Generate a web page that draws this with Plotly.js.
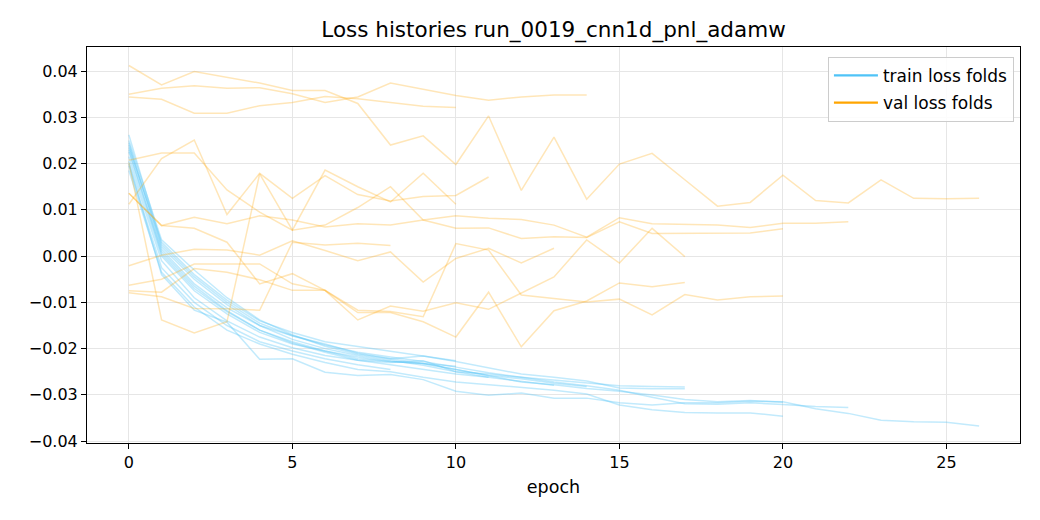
<!DOCTYPE html>
<html>
<head>
<meta charset="utf-8">
<script src="https://cdn.plot.ly/plotly-3.0.1.min.js"></script>
<style>html,body{margin:0;padding:0;background:#fff;}#chart{width:1040px;height:520px;}</style>
</head>
<body>
<div id="chart"></div>
<script>
// ---- data: per-fold loss histories (index = epoch) ----
const trainFold01 = [0.0235, 0.0030, -0.0040, -0.0095, -0.0140, -0.0165, -0.0185, -0.0195, -0.0205, -0.0216, -0.0226];
const valFold01   = [0.0344, 0.0339, 0.0309, 0.0309, 0.0325, 0.0332, 0.0345, 0.0340, 0.0332, 0.0324, 0.0321];

const trainFold02 = [0.0250, 0.0035, -0.0030, -0.0090, -0.0138, -0.0170, -0.0195, -0.0212, -0.0222, -0.0232, -0.0245, -0.0258, -0.0265, -0.0275, -0.0282];
const valFold02   = [0.0350, 0.0363, 0.0368, 0.0363, 0.0364, 0.0351, 0.0332, 0.0344, 0.0374, 0.0360, 0.0347, 0.0337, 0.0344, 0.0348, 0.0348];

const trainFold03 = [0.0200, -0.0040, -0.0117, -0.0143, -0.0223, -0.0222, -0.0251, -0.0258, -0.0256, -0.0267, -0.0292, -0.0301, -0.0296, -0.0307, -0.0307, -0.0317, -0.0322, -0.0317, -0.0317, -0.0314, -0.0315, -0.0330, -0.0340, -0.0355, -0.0358, -0.0359, -0.0367];
const valFold03   = [0.0412, 0.0370, 0.0399, 0.0387, 0.0374, 0.0358, 0.0358, 0.0330, 0.0240, 0.0260, 0.0198, 0.0303, 0.0142, 0.0257, 0.0123, 0.0199, 0.0222, 0.0165, 0.0108, 0.0116, 0.0175, 0.0120, 0.0115, 0.0165, 0.0125, 0.0124, 0.0125];

const trainFold04 = [0.0245, 0.0020, -0.0050, -0.0105, -0.0150, -0.0180, -0.0200, -0.0215, -0.0225, -0.0236, -0.0250, -0.0262];
const valFold04   = [0.0112, 0.0211, 0.0251, 0.0090, 0.0179, 0.0125, 0.0174, 0.0133, 0.0119, 0.0129, 0.0131, 0.0171];

const trainFold05 = [0.0215, 0.0000, -0.0075, -0.0125, -0.0165, -0.0190, -0.0205, -0.0222, -0.0228, -0.0232, -0.0238];
const valFold05   = [0.0207, 0.0223, 0.0223, 0.0143, 0.0095, 0.0056, 0.0186, 0.0150, 0.0117, 0.0179, 0.0112];

const trainFold06 = [0.0262, 0.0025, -0.0045, -0.0100, -0.0145, -0.0172, -0.0192, -0.0208, -0.0218, -0.0228, -0.0240, -0.0252, -0.0262, -0.0272, -0.0280, -0.0290, -0.0305, -0.0319, -0.0320, -0.0317, -0.0321, -0.0325, -0.0327];
const valFold06   = [0.0136, 0.0066, 0.0084, 0.0070, 0.0087, 0.0078, 0.0063, 0.0070, 0.0067, 0.0078, 0.0087, 0.0082, 0.0079, 0.0067, 0.0041, 0.0083, 0.0070, 0.0069, 0.0067, 0.0062, 0.0071, 0.0071, 0.0074];

const trainFold07 = [0.0185, -0.0035, -0.0110, -0.0160, -0.0190, -0.0212, -0.0230, -0.0245, -0.0250, -0.0262, -0.0272, -0.0278, -0.0285, -0.0290, -0.0298, -0.0322, -0.0332, -0.0338, -0.0339, -0.0339, -0.0346];
const valFold07   = [0.0202, -0.0138, -0.0166, -0.0142, 0.0178, 0.0056, 0.0067, 0.0105, 0.0150, 0.0078, 0.0060, 0.0061, 0.0038, 0.0042, 0.0040, 0.0074, 0.0049, 0.0049, 0.0050, 0.0050, 0.0059];

const trainFold08 = [0.0205, -0.0010, -0.0090, -0.0140, -0.0175, -0.0198, -0.0215, -0.0225, -0.0230, -0.0226, -0.0250, -0.0255, -0.0262, -0.0268, -0.0275, -0.0280, -0.0282, -0.0283];
const valFold08   = [-0.0063, -0.0050, -0.0017, -0.0017, -0.0017, -0.0060, -0.0074, -0.0138, -0.0108, -0.0119, -0.0101, -0.0115, -0.0080, -0.0045, 0.0035, -0.0015, 0.0060, -0.0001];

const trainFold09 = [0.0225, 0.0010, -0.0065, -0.0118, -0.0160, -0.0188, -0.0208, -0.0225, -0.0235, -0.0245, -0.0255, -0.0262, -0.0270, -0.0279];
const valFold09   = [-0.0021, 0.0002, 0.0015, 0.0013, 0.0002, 0.0033, 0.0012, -0.0010, 0.0009, -0.0056, -0.0005, 0.0017, -0.0015, 0.0017];

const trainFold10 = [0.0195, -0.0025, -0.0100, -0.0150, -0.0185, -0.0205, -0.0222, -0.0235, -0.0245];
const valFold10   = [-0.0079, -0.0088, -0.0113, -0.0114, -0.0117, 0.0030, 0.0024, 0.0028, 0.0023];

const trainFold11 = [0.0240, 0.0015, -0.0060, -0.0112, -0.0150, -0.0172, -0.0190, -0.0210, -0.0222, -0.0216, -0.0228, -0.0242, -0.0255, -0.0262, -0.0270, -0.0285, -0.0287, -0.0287];
const valFold11   = [-0.0075, -0.0078, -0.0027, -0.0035, -0.0051, -0.0074, -0.0074, -0.0122, -0.0122, -0.0142, -0.0175, -0.0078, -0.0196, -0.0118, -0.0097, -0.0058, -0.0066, -0.0057];

const trainFold12 = [0.0230, 0.0005, -0.0070, -0.0120, -0.0160, -0.0185, -0.0205, -0.0218, -0.0228, -0.0232, -0.0245, -0.0258, -0.0272, -0.0278, -0.0286, -0.0292, -0.0300, -0.0310, -0.0315, -0.0312, -0.0316];
const valFold12   = [0.0136, 0.0066, 0.0060, 0.0030, -0.0060, -0.0038, -0.0074, -0.0117, -0.0120, -0.0131, 0.0027, 0.0013, -0.0084, -0.0091, -0.0099, -0.0093, -0.0127, -0.0083, -0.0095, -0.0088, -0.0086];

const trainFolds = [trainFold01, trainFold02, trainFold03, trainFold04, trainFold05, trainFold06,
                    trainFold07, trainFold08, trainFold09, trainFold10, trainFold11, trainFold12];
const valFolds   = [valFold01, valFold02, valFold03, valFold04, valFold05, valFold06,
                    valFold07, valFold08, valFold09, valFold10, valFold11, valFold12];

const seriesNames = ["train loss folds", "val loss folds"];
const xTickVals = [0, 5, 10, 15, 20, 25];
const yTickVals = [0.04, 0.03, 0.02, 0.01, 0.00, -0.01, -0.02, -0.03, -0.04];
const titleText = "Loss histories run_0019_cnn1d_pnl_adamw";
const xTitle = "epoch";

// ---- styling ----
const trainColor = "#4fc3f7";
const valColor = "#ffa500";
const fadeTrain = "rgba(79,195,247,0.35)";
const fadeVal = "rgba(255,165,0,0.28)";

const traces = [];
trainFolds.forEach(function (ys) {
  traces.push({x: ys.map(function (_, i) { return i; }), y: ys, type: "scatter", mode: "lines",
    line: {color: fadeTrain, width: 1.5}, showlegend: false, hoverinfo: "skip"});
});
valFolds.forEach(function (ys) {
  traces.push({x: ys.map(function (_, i) { return i; }), y: ys, type: "scatter", mode: "lines",
    line: {color: fadeVal, width: 1.5}, showlegend: false, hoverinfo: "skip"});
});
// legend entries
traces.push({x: [null], y: [null], type: "scatter", mode: "lines", name: seriesNames[0], legendgroup: "g1",
  line: {color: trainColor, width: 2.2}, showlegend: true});
traces.push({x: [null], y: [null], type: "scatter", mode: "lines", name: seriesNames[1], legendgroup: "g2",
  line: {color: valColor, width: 2.2}, showlegend: true});

const fontFam = "DejaVu Sans, sans-serif";
const layout = {
  width: 1040, height: 520,
  margin: {l: 87, r: 20, t: 47, b: 77},
  paper_bgcolor: "#fff", plot_bgcolor: "#fff",
  font: {family: fontFam, size: 15, color: "#000"},
  title: {text: titleText, font: {family: fontFam, size: 21.5, color: "#000"}, xref: "paper", x: 0.5, xanchor: "center", y: 0.943, yanchor: "middle"},
  xaxis: {
    range: [-1.28, 27.25], tickvals: xTickVals, ticks: "outside", ticklen: 5, tickcolor: "#000",
    showgrid: true, gridcolor: "#e6e6e6", gridwidth: 1, zeroline: false,
    showline: true, linecolor: "#000", linewidth: 1, mirror: true,
    title: {text: xTitle, font: {family: fontFam, size: 17.5, color: "#000"}, standoff: 9},
    tickfont: {family: fontFam, size: 16, color: "#000"}
  },
  yaxis: {
    range: [-0.0404, 0.0452], tickvals: yTickVals, tickformat: ".2f", ticks: "outside", ticklen: 5, tickcolor: "#000",
    showgrid: true, gridcolor: "#e6e6e6", gridwidth: 1, zeroline: false,
    showline: true, linecolor: "#000", linewidth: 1, mirror: true,
    tickfont: {family: fontFam, size: 16, color: "#000"}
  },
  legend: {x: 0.9935, y: 0.975, xanchor: "right", yanchor: "top", bgcolor: "rgba(255,255,255,0.85)",
    bordercolor: "#cccccc", borderwidth: 1, font: {family: fontFam, size: 17, color: "#000"},
    tracegroupgap: 2, itemwidth: 44},
  showlegend: true,
  hovermode: false
};

Plotly.newPlot("chart", traces, layout, {staticPlot: true, displayModeBar: false});
</script>
</body>
</html>
